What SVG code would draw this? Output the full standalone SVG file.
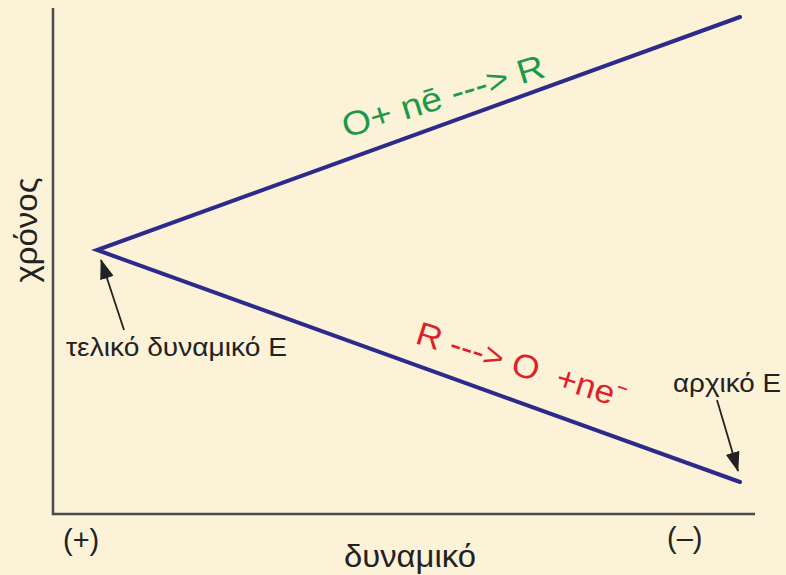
<svg xmlns="http://www.w3.org/2000/svg" width="786" height="575" viewBox="0 0 786 575">
<style>
.ax{stroke:#4a4a4a;stroke-width:2.5;fill:none}
.cv{stroke:#2e2a8c;stroke-width:4;fill:none;stroke-linecap:round}
.lbl{font-family:"Liberation Sans",Arial,sans-serif;fill:#222}
.ar{stroke:#222;stroke-width:1.8;fill:none}
</style>
<defs>
<marker id="ah2" markerWidth="20" markerHeight="14" refX="19" refY="7" orient="auto" markerUnits="userSpaceOnUse" viewBox="0 0 20 14">
<path d="M0,0 L20,7 L0,14 Z" fill="#222"/>
</marker>
</defs>
<rect width="786" height="575" fill="#fbf2d8"/>
<g id="axes">
<path class="ax" d="M53,8 V514 H755"/>
</g>
<g id="connectors">
<path class="cv" d="M740,17 L97,250 L740,482"/>
<path class="ar" d="M124,330 L101,260" marker-end="url(#ah2)"/>
<path class="ar" d="M717,400 L738,471" marker-end="url(#ah2)"/>
</g>
<g id="label-ox">
<text class="lbl" x="0" y="0" font-size="34" style="fill:#1a9a4a" textLength="210" lengthAdjust="spacingAndGlyphs" transform="translate(346,138) rotate(-17)">O+ nē ---&gt; R</text>
</g>
<g id="label-red">
<text class="lbl" x="0" y="0" font-size="33" style="fill:#e01f2a" xml:space="preserve" textLength="218" lengthAdjust="spacingAndGlyphs" transform="translate(414,343) rotate(17.5)">R ---&gt; O  +ne⁻</text>
</g>
<g id="label-final">
<text class="lbl" x="66" y="356" font-size="26" textLength="221" lengthAdjust="spacingAndGlyphs">τελικό δυναμικό Ε</text>
</g>
<g id="label-initial">
<text class="lbl" x="673" y="392" font-size="26" textLength="108" lengthAdjust="spacingAndGlyphs">αρχικό Ε</text>
</g>
<g id="y-axis-label">
<text class="lbl" x="0" y="0" font-size="31" text-anchor="middle" textLength="105" lengthAdjust="spacingAndGlyphs" transform="translate(37,230) rotate(-90)">χρόνος</text>
</g>
<g id="x-axis-labels">
<text class="lbl" x="63" y="550" font-size="29">(+)</text>
<text class="lbl" x="667" y="548" font-size="29">(–)</text>
<text class="lbl" x="410" y="567" font-size="31" text-anchor="middle" textLength="132" lengthAdjust="spacingAndGlyphs">δυναμικό</text>
</g>
</svg>
